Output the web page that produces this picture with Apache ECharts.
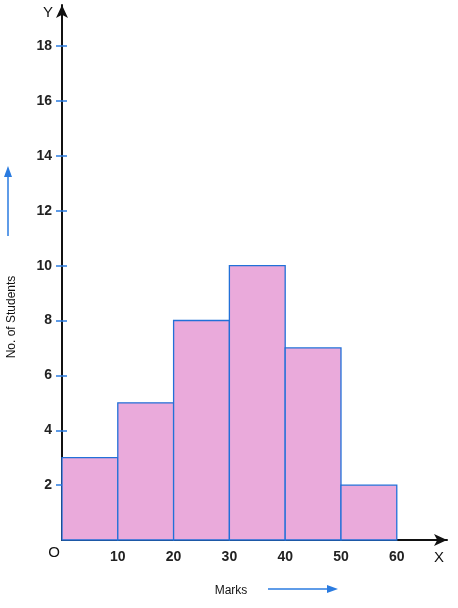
<!DOCTYPE html>
<html><head><meta charset="utf-8">
<script src="https://cdn.jsdelivr.net/npm/echarts@6/dist/echarts.min.js"></script>
<style>html,body{margin:0;padding:0;background:#fff}#c{width:458px;height:608px}</style>
</head><body><div id="c"></div>
<script>
var classStart = [0, 10, 20, 30, 40, 50];
var classEnd = [10, 20, 30, 40, 50, 60];
var students = [3, 5, 8, 10, 7, 2];
var yTicks = [2, 4, 6, 8, 10, 12, 14, 16, 18];
var xTicks = [10, 20, 30, 40, 50, 60];

var data = classStart.map(function (s, i) { return [s, classEnd[i], students[i]]; });
var font = '"Liberation Sans", Arial, sans-serif';
var chart = echarts.init(document.getElementById('c'));
var blue = '#2a7be0';
chart.setOption({
  animation: false,
  grid: { left: 62, right: 11, top: 5, bottom: 68 },
  xAxis: {
    type: 'value', min: 0, max: 69,
    axisLine: { show: true, lineStyle: { color: '#111', width: 2 }, symbol: ['none', 'arrow'], symbolSize: [9, 13] },
    axisTick: { show: false },
    splitLine: { show: false },
    axisLabel: { customValues: xTicks, margin: 10, color: '#222', fontSize: 14, fontWeight: 'bold', fontFamily: font }
  },
  yAxis: [{
    type: 'value', min: 0, max: 19.5,
    axisLine: { show: true, lineStyle: { color: '#111', width: 2 }, symbol: ['none', 'arrow'], symbolSize: [9, 13] },
    axisTick: { show: true, customValues: yTicks, length: 6, lineStyle: { color: blue, width: 1.5 } },
    splitLine: { show: false },
    axisLabel: { customValues: yTicks, margin: 10, color: '#222', fontSize: 14, fontWeight: 'bold', fontFamily: font }
  }, {
    type: 'value', min: 0, max: 19.5, position: 'left',
    axisLine: { show: false },
    axisTick: { show: true, inside: true, customValues: yTicks, length: 5, lineStyle: { color: blue, width: 1.5 } },
    splitLine: { show: false },
    axisLabel: { show: false }
  }],
  series: [{
    type: 'custom',
    data: data,
    encode: { x: [0, 1], y: 2 },
    renderItem: function (params, api) {
      var p0 = api.coord([api.value(0), api.value(2)]);
      var p1 = api.coord([api.value(1), 0]);
      return {
        type: 'rect',
        shape: { x: p0[0], y: p0[1], width: p1[0] - p0[0], height: p1[1] - p0[1] },
        style: { fill: '#eaaadb', stroke: '#2270d8', lineWidth: 1.3 }
      };
    },
    z: 1
  }],
  graphic: [
    { type: 'text', x: 48, y: 13, style: { text: 'Y', font: '15px ' + font, fill: '#111', align: 'center', verticalAlign: 'middle' } },
    { type: 'text', x: 54, y: 553, style: { text: 'O', font: '15px ' + font, fill: '#111', align: 'center', verticalAlign: 'middle' } },
    { type: 'text', x: 439, y: 558, style: { text: 'X', font: '15px ' + font, fill: '#111', align: 'center', verticalAlign: 'middle' } },
    { type: 'text', x: 12, y: 317, rotation: Math.PI / 2, style: { text: 'No. of Students', font: '12px ' + font, fill: '#111', align: 'center', verticalAlign: 'middle' } },
    { type: 'text', x: 231, y: 591, style: { text: 'Marks', font: '12px ' + font, fill: '#111', align: 'center', verticalAlign: 'middle' } },
    { type: 'line', shape: { x1: 8, y1: 236, x2: 8, y2: 176 }, style: { stroke: blue, lineWidth: 1.5 } },
    { type: 'polygon', shape: { points: [[8, 166], [4, 177], [12, 177]] }, style: { fill: blue } },
    { type: 'line', shape: { x1: 268, y1: 589, x2: 328, y2: 589 }, style: { stroke: blue, lineWidth: 1.5 } },
    { type: 'polygon', shape: { points: [[338, 589], [327, 585], [327, 593]] }, style: { fill: blue } }
  ]
});
</script></body></html>
